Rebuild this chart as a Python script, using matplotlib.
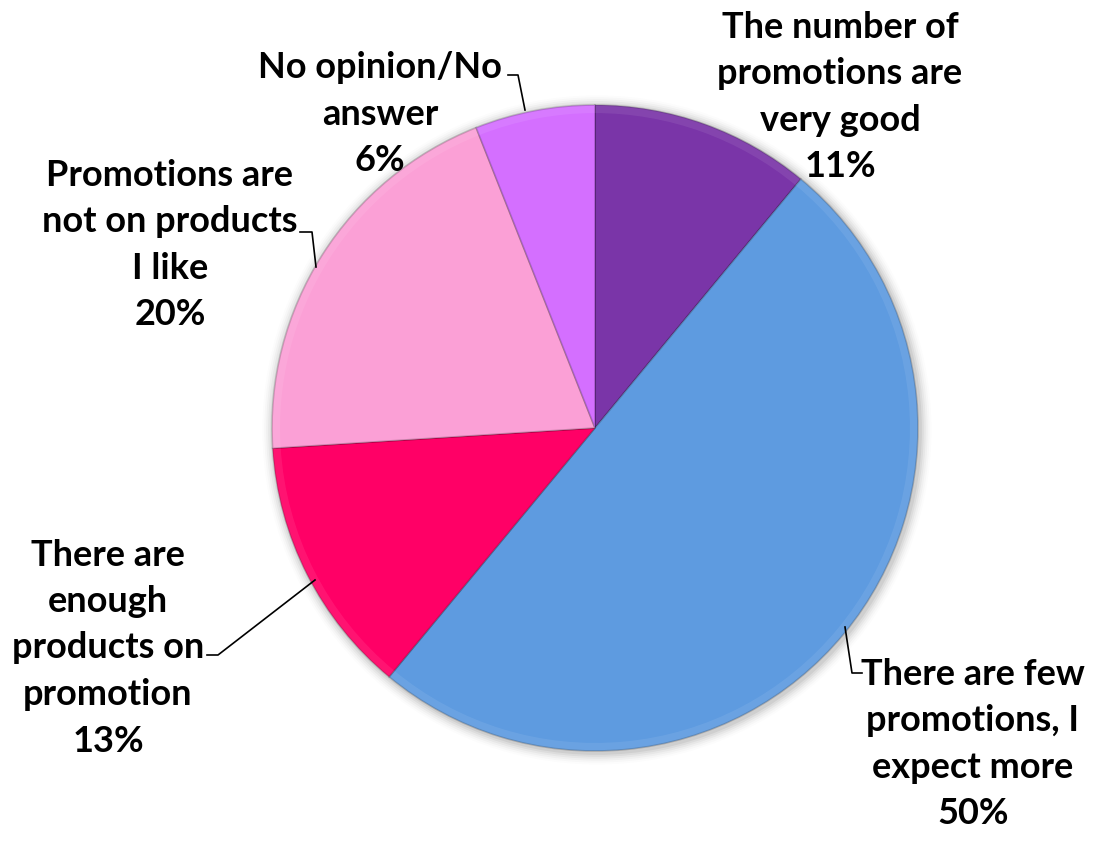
import matplotlib.pyplot as plt
from matplotlib.patches import Wedge, Circle
import numpy as np

# Survey answers about promotions
labels = [
    'The number of\npromotions are\nvery good',
    'There are few\npromotions, I\nexpect more',
    'There are\nenough\nproducts on\npromotion',
    'Promotions are\nnot on products\nI like',
    'No opinion/No\nanswer',
]
shares = [11, 50, 13, 20, 6]
colors = ['#7A35A8', '#5E9BE0', '#FF0066', '#FBA0D6', '#D46FFF']

W, H = 1098, 848
CX, CY, R = 595, 428, 323


def px(x, y):
    # pixel position (top-left origin) -> data units around the pie centre
    return (x - CX) / R, (CY - y) / R


fig = plt.figure(figsize=(W / 100, H / 100), dpi=100)
ax = fig.add_axes([0, 0, 1, 1])

# soft shadow under the pie
for i, a in enumerate(np.linspace(0.05, 0.01, 6)):
    ax.add_patch(Circle((0.006, -0.006), 1.0 + 0.006 * (i + 1), color='black',
                        alpha=a, zorder=0, lw=0))

wedges, _ = ax.pie(shares, colors=colors, startangle=90, counterclock=False,
                   radius=1.0, center=(0, 0), frame=True,
                   wedgeprops=dict(edgecolor='#00000030', linewidth=1.2))
ax.set_xlim(-CX / R, (W - CX) / R)
ax.set_ylim(-(H - CY) / R, CY / R)
ax.axis('off')

# light bevel along the rim
for w in wedges:
    ax.add_patch(Wedge((0, 0), 1.0, w.theta1, w.theta2, width=0.025,
                       facecolor='white', alpha=0.08, lw=0))

font = dict(family=['Lato', 'DejaVu Sans'], fontsize=26, fontweight='bold',
            ha='center', va='center', linespacing=1.5, color='black')

label_pos = [(840, 97), (973, 744), (108, 648), (170, 245), (380, 114)]
for text, share, (x, y) in zip(labels, shares, label_pos):
    ax.text(*px(x, y), f'{text}\n{share}%', **font)

# leader lines from labels to the slices
leaders = [
    [(862, 673), (852, 673), (845, 627)],
    [(207, 655), (218, 655), (315, 580)],
    [(300, 232), (312, 232), (316, 267)],
    [(508, 75), (518, 75), (525, 110)],
]
for pts in leaders:
    xs, ys = zip(*[px(x, y) for x, y in pts])
    ax.plot(xs, ys, color='black', lw=1.2, zorder=5)

fig.savefig('out.png', dpi=100)
